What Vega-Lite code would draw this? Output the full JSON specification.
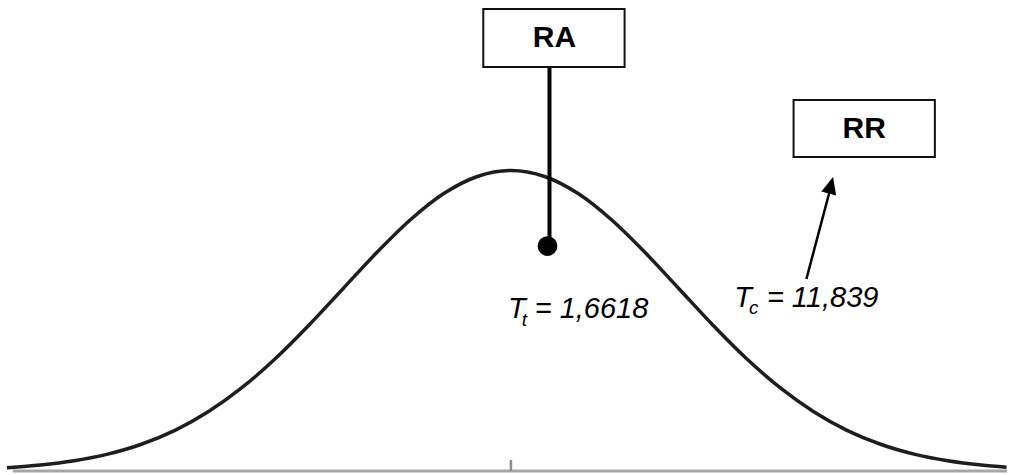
{
  "$schema": "https://vega.github.io/schema/vega-lite/v6.json",
  "width": 1014,
  "height": 475,
  "autosize": {"type": "fit", "contains": "padding"},
  "padding": 0,
  "background": "white",
  "config": {"view": {"stroke": null}},
  "layer": [
    {
      "data": {"values": [
        {"x": -2.9647, "x2": 2.9529, "y": 0}
      ]},
      "mark": {"type": "rule", "color": "#a6a6a6", "strokeWidth": 3},
      "encoding": {
        "x": {"field": "x", "type": "quantitative", "scale": {"domain": [-3.0118, 2.9529], "nice": false, "zero": false}, "axis": null},
        "x2": {"field": "x2"},
        "y": {"field": "y", "type": "quantitative", "scale": {"domain": [-0.0053, 0.6253], "nice": false, "zero": false}, "axis": null}
      }
    },
    {
      "data": {"values": [
        {"x": 0, "y": 0, "y2": 0.0146}
      ]},
      "mark": {"type": "rule", "color": "#8c8c8c", "strokeWidth": 2.5},
      "encoding": {
        "x": {"field": "x", "type": "quantitative"},
        "y": {"field": "y", "type": "quantitative"},
        "y2": {"field": "y2"}
      }
    },
    {
      "data": {"values": [
        {"x": -3.0, "y": 0.0044},
        {"x": -2.8, "y": 0.0079},
        {"x": -2.6, "y": 0.0136},
        {"x": -2.4, "y": 0.0224},
        {"x": -2.2, "y": 0.0355},
        {"x": -2.0, "y": 0.0540},
        {"x": -1.8, "y": 0.0790},
        {"x": -1.6, "y": 0.1109},
        {"x": -1.4, "y": 0.1497},
        {"x": -1.2, "y": 0.1942},
        {"x": -1.0, "y": 0.2420},
        {"x": -0.8, "y": 0.2897},
        {"x": -0.6, "y": 0.3332},
        {"x": -0.4, "y": 0.3683},
        {"x": -0.2, "y": 0.3910},
        {"x": 0.0, "y": 0.3989},
        {"x": 0.2, "y": 0.3910},
        {"x": 0.4, "y": 0.3683},
        {"x": 0.6, "y": 0.3332},
        {"x": 0.8, "y": 0.2897},
        {"x": 1.0, "y": 0.2420},
        {"x": 1.2, "y": 0.1942},
        {"x": 1.4, "y": 0.1497},
        {"x": 1.6, "y": 0.1109},
        {"x": 1.8, "y": 0.0790},
        {"x": 2.0, "y": 0.0540},
        {"x": 2.2, "y": 0.0355},
        {"x": 2.4, "y": 0.0224},
        {"x": 2.6, "y": 0.0136},
        {"x": 2.8, "y": 0.0079},
        {"x": 2.95, "y": 0.0051}
      ]},
      "mark": {"type": "line", "color": "#1e1e1e", "strokeWidth": 3.5, "interpolate": "monotone"},
      "encoding": {
        "x": {"field": "x", "type": "quantitative"},
        "y": {"field": "y", "type": "quantitative"}
      }
    },
    {
      "data": {"values": [
        {"x": 0.2294, "y": 0.5364, "y2": 0.2974}
      ]},
      "mark": {"type": "rule", "color": "black", "strokeWidth": 4},
      "encoding": {
        "x": {"field": "x", "type": "quantitative"},
        "y": {"field": "y", "type": "quantitative"},
        "y2": {"field": "y2"}
      }
    },
    {
      "data": {"values": [
        {"x": 0.2176, "y": 0.2987}
      ]},
      "mark": {"type": "point", "shape": "circle", "filled": true, "color": "black", "opacity": 1, "size": 390},
      "encoding": {
        "x": {"field": "x", "type": "quantitative"},
        "y": {"field": "y", "type": "quantitative"}
      }
    },
    {
      "data": {"values": [
        {"x": 1.7588, "y": 0.2549, "x2": 1.9118, "y2": 0.3837}
      ]},
      "mark": {"type": "rule", "color": "black", "strokeWidth": 2.5},
      "encoding": {
        "x": {"field": "x", "type": "quantitative"},
        "y": {"field": "y", "type": "quantitative"},
        "x2": {"field": "x2"},
        "y2": {"field": "y2"}
      }
    },
    {
      "data": {"values": [
        {"x": 1.9176, "y": 0.3903}
      ]},
      "mark": {"type": "point", "shape": "M0,0L0.45,1L-0.45,1Z", "filled": true, "color": "black", "opacity": 1, "size": 1156, "angle": 14.8},
      "encoding": {
        "x": {"field": "x", "type": "quantitative"},
        "y": {"field": "y", "type": "quantitative"}
      }
    },
    {
      "data": {"values": [
        {"label": "RA", "x": -0.1647, "x2": 0.6765, "y": 0.6134, "y2": 0.5364},
        {"label": "RR", "x": 1.6824, "x2": 2.5235, "y": 0.4926, "y2": 0.4169}
      ]},
      "mark": {"type": "rect", "fill": "white", "stroke": "#111111", "strokeWidth": 2},
      "encoding": {
        "x": {"field": "x", "type": "quantitative"},
        "x2": {"field": "x2"},
        "y": {"field": "y", "type": "quantitative"},
        "y2": {"field": "y2"}
      }
    },
    {
      "data": {"values": [
        {"label": "RA", "x": 0.2588, "y": 0.5749},
        {"label": "RR", "x": 2.1029, "y": 0.4547}
      ]},
      "mark": {"type": "text", "font": "Liberation Sans", "fontWeight": "bold", "fontSize": 30, "color": "black", "align": "center", "baseline": "middle"},
      "encoding": {
        "x": {"field": "x", "type": "quantitative"},
        "y": {"field": "y", "type": "quantitative"},
        "text": {"field": "label"}
      }
    },
    {
      "data": {"values": [
        {"label": "T", "x": -0.0176, "y": 0.2031, "size": "main"},
        {"label": "t", "x": 0.0647, "y": 0.1925, "size": "sub"},
        {"label": "= 1,6618", "x": 0.1412, "y": 0.2031, "size": "main"},
        {"label": "T", "x": 1.3294, "y": 0.2177, "size": "main"},
        {"label": "c", "x": 1.4176, "y": 0.2084, "size": "sub"},
        {"label": "= 11,839", "x": 1.5235, "y": 0.2177, "size": "main"}
      ]},
      "mark": {"type": "text", "font": "Liberation Sans", "fontStyle": "italic", "color": "black", "align": "left", "baseline": "alphabetic"},
      "encoding": {
        "x": {"field": "x", "type": "quantitative"},
        "y": {"field": "y", "type": "quantitative"},
        "text": {"field": "label"},
        "size": {"field": "size", "type": "nominal", "scale": {"domain": ["main", "sub"], "range": [29, 19]}, "legend": null}
      }
    }
  ]
}
